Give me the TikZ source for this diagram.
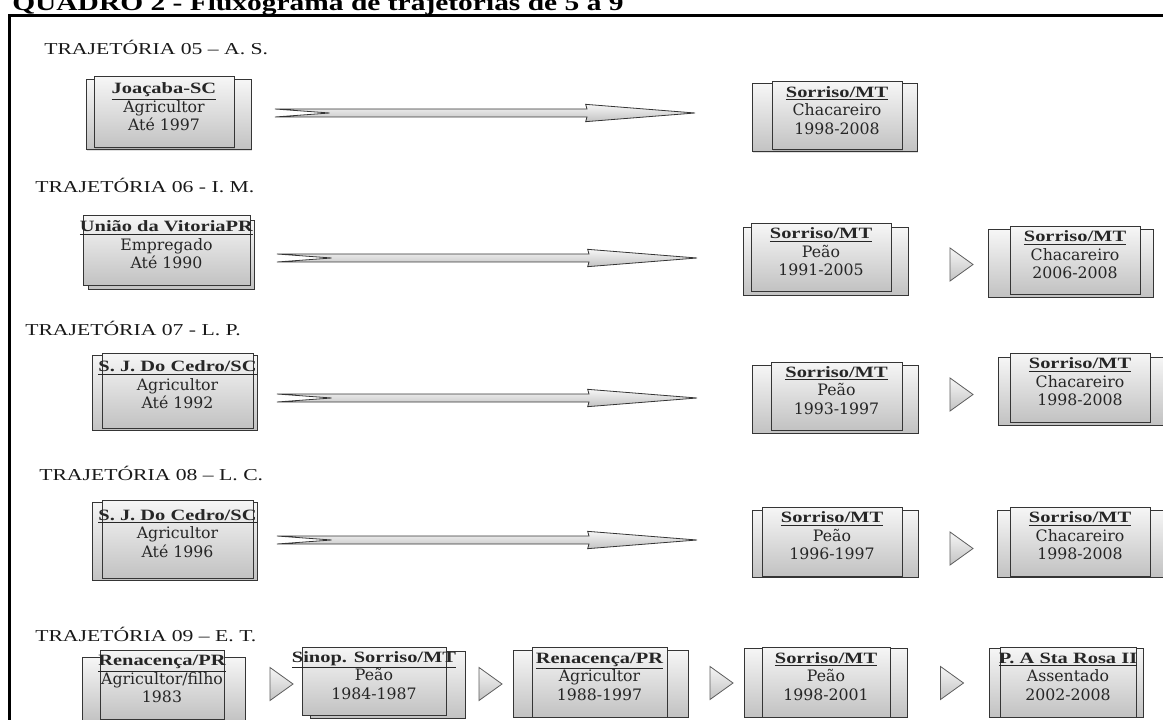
\documentclass[tikz,border=0pt]{standalone}
\usepackage{fontspec}
\setmainfont{Liberation Serif}[FakeStretch=1.3]
\newfontfamily\corpo{DejaVu Serif}
\usetikzlibrary{shapes,arrows,fit,calc,shadows}
\usepackage{xcolor}
\definecolor{borda}{HTML}{353535}
\definecolor{claro}{HTML}{F6F6F6}
\definecolor{escuro}{HTML}{C2C2C2}
\newcommand{\cab}[1]{\makebox[0pt]{\rmfamily\underline{\textbf{#1}}}}

\begin{document}
\begin{tikzpicture}[x=0.75pt,y=-0.75pt,
					caixa/.style={draw=borda, line width=0.75pt, top color=claro, bottom color=escuro, inner sep=0pt, align=center,
						font=\corpo\fontsize{11.8}{13.9}\selectfont, text=black!85,
						drop shadow={opacity=0.25, shadow xshift=1pt, shadow yshift=-1pt}},
					fundo/.style={caixa},
					rotulo/.style={anchor=base west, inner sep=0pt, font=\fontsize{12.5}{15}\selectfont, text=black!90},
					passo/.style={isosceles triangle, isosceles triangle stretches, minimum width=24.75pt, minimum height=17.25pt,
						inner sep=0pt, draw=borda!80, line width=0.6pt, top color=claro, bottom color=escuro},
					seta/.style={draw=borda, line width=0.6pt, top color=claro, bottom color=escuro,
						to path={let \p1=(\tikztostart), \p2=(\tikztotarget) in
							(\x1,\y1+3pt) -- (\x2-81pt,\y2+3pt) -- (\x2-82pt,\y2+6.5pt) -- (\x2,\y2)
							-- (\x2-82pt,\y2-6.5pt) -- (\x2-81pt,\y2-3pt) -- (\x1,\y1-3pt) -- (\x1+41pt,\y1) -- cycle}}]
    \useasboundingbox (0,0) rectangle (1163,720);
    % Title and frame
    \node [anchor=base west, inner sep=0pt, font=\bfseries\fontsize{17}{20}\selectfont] (titulo) at (12,11)
    	{QUADRO 2 - Fluxograma de trajetórias de 5 a 9};
    \draw [line width=2.25pt] (9,15.5) rectangle (1190,760);

    % Place nodes
    \node [rotulo] (l5) at (44,55) {TRAJETÓRIA 05 – A. S.};
    \node [fundo, fit={(86,80) (251,150)}] (a5f) {};
    \node [caixa, fit={(94,77) (234,148)}] (a5) {\cab{Joaçaba-SC}\\Agricultor\\Até 1997};
    \node [fundo, fit={(752,84) (917,152)}] (b5f) {};
    \node [caixa, fit={(772,82) (902,150)}] (b5) {\cab{Sorriso/MT}\\Chacareiro\\1998-2008};

    \node [rotulo] (l6) at (35,193) {TRAJETÓRIA 06 - I. M.};
    \node [fundo, fit={(88,221) (254,289)}] (a6f) {};
    \node [caixa, fit={(83,216) (250,285)}] (a6) {\cab{União da VitoriaPR}\\Empregado\\Até 1990};
    \node [fundo, fit={(743,228) (908,295)}] (b6f) {};
    \node [caixa, fit={(751,224) (891,291)}] (b6) {\cab{Sorriso/MT}\\Peão\\1991-2005};
    \node [passo] (t6) at (958.5,264.5) {};
    \node [fundo, fit={(988,230) (1153,297)}] (c6f) {};
    \node [caixa, fit={(1010,227) (1140,294)}] (c6) {\cab{Sorriso/MT}\\Chacareiro\\2006-2008};

    \node [rotulo] (l7) at (25,335) {TRAJETÓRIA 07 - L. P.};
    \node [fundo, fit={(92,355) (257,430)}] (a7f) {};
    \node [caixa, fit={(102,353) (253,428)}] (a7) {\cab{S. J. Do Cedro/SC}\\Agricultor\\Até 1992};
    \node [fundo, fit={(752,365) (918,433)}] (b7f) {};
    \node [caixa, fit={(771,362) (902,430)}] (b7) {\cab{Sorriso/MT}\\Peão\\1993-1997};
    \node [passo] (t7) at (958.5,394.5) {};
    \node [fundo, fit={(998,357) (1165,425)}] (c7f) {};
    \node [caixa, fit={(1010,353) (1150,422)}] (c7) {\cab{Sorriso/MT}\\Chacareiro\\1998-2008};

    \node [rotulo] (l8) at (39,480) {TRAJETÓRIA 08 – L. C.};
    \node [fundo, fit={(92,502) (257,580)}] (a8f) {};
    \node [caixa, fit={(102,500) (253,578)}] (a8) {\cab{S. J. Do Cedro/SC}\\Agricultor\\Até 1996};
    \node [fundo, fit={(752,510) (918,577)}] (b8f) {};
    \node [caixa, fit={(762,507) (902,576)}] (b8) {\cab{Sorriso/MT}\\Peão\\1996-1997};
    \node [passo] (t8) at (958.5,548.5) {};
    \node [fundo, fit={(997,510) (1165,577)}] (c8f) {};
    \node [caixa, fit={(1010,507) (1150,576)}] (c8) {\cab{Sorriso/MT}\\Chacareiro\\1998-2008};

    \node [rotulo] (l9) at (35,641) {TRAJETÓRIA 09 – E. T.};
    \node [fundo, fit={(82,657) (245,722)}] (a9f) {};
    \node [caixa, fit={(100,650) (224,719)}] (a9) {\cab{Renacença/PR}\\Agricultor/filho\\1983};
    \node [passo] (t9a) at (278.5,684) {};
    \node [fundo, fit={(310,651) (465,718)}] (b9f) {};
    \node [caixa, fit={(302,647) (446,715)}] (b9) {\cab{Sinop. Sorriso/MT}\\Peão\\1984-1987};
    \node [passo] (t9b) at (487.5,684) {};
    \node [fundo, fit={(513,650) (688,717)}] (c9f) {};
    \node [caixa, fit={(532,647) (667,717)}] (c9) {\cab{Renacença/PR}\\Agricultor\\1988-1997};
    \node [passo] (t9c) at (718.5,683) {};
    \node [fundo, fit={(744,648) (907,717)}] (d9f) {};
    \node [caixa, fit={(762,647) (890,717)}] (d9) {\cab{Sorriso/MT}\\Peão\\1998-2001};
    \node [passo] (t9d) at (949,683) {};
    \node [fundo, fit={(989,648) (1143,717)}] (e9f) {};
    \node [caixa, fit={(1000,647) (1136,717)}] (e9) {\cab{P. A Sta Rosa II}\\Assentado\\2002-2008};

    % Draw edges
    \coordinate (i5) at (275,113);  \coordinate (f5) at (695,113);
    \coordinate (i6) at (277,258);  \coordinate (f6) at (697,258);
    \coordinate (i7) at (277,398);  \coordinate (f7) at (697,398);
    \coordinate (i8) at (277,540);  \coordinate (f8) at (697,540);
    \draw [seta] (i5) to (f5);
    \draw [seta] (i6) to (f6);
    \draw [seta] (i7) to (f7);
    \draw [seta] (i8) to (f8);
\end{tikzpicture}
\end{document}
